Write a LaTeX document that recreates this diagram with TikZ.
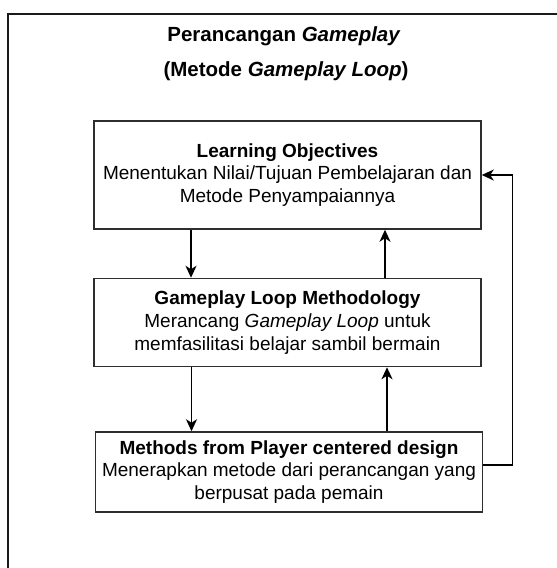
\documentclass[tikz,border=0pt]{standalone}
\usepackage{fontspec}
\setmainfont{Liberation Sans}
\usetikzlibrary{positioning,calc,arrows.meta}
\definecolor{framegray}{HTML}{1A1A1A}
\definecolor{boxgray}{HTML}{2E2E2E}

\begin{document}
\begin{tikzpicture}[
    x=1pt,y=-1pt,
    stage/.style={rectangle,draw=boxgray,line width=1.5pt,minimum width=387pt,
      align=center,inner sep=0pt,font=\fontsize{19}{22.8}\selectfont},
    flow/.style={-{Stealth[length=12pt,width=11pt,inset=3.5pt]},line width=1.5pt,black},
    heading/.style={font=\fontsize{20.5}{24}\selectfont\bfseries}
  ]
    \useasboundingbox (0,0) rectangle (557,568);
    % Outer frame (cut at the right and bottom)
    \begin{scope}
      \clip (0,0) rectangle (557,568);
      \draw[framegray,line width=1.6pt] (8,14) rectangle (590,600);
    \end{scope}
    % Title
    \node[heading] (title) at (284,36) {Perancangan \textit{Gameplay}};
    \node[heading] (subtitle) at (286,71) {(Metode \textit{Gameplay Loop})};
    % Stages
    \node[stage,minimum height=108pt] (objectives) at (287.5,175)
      {\textbf{Learning Objectives}\\Menentukan Nilai/Tujuan Pembelajaran dan\\Metode Penyampaiannya};
    \node[stage,minimum height=88pt,below=48pt of objectives] (loopmethod)
      {\textbf{Gameplay Loop Methodology}\\Merancang \textit{Gameplay Loop} untuk\\memfasilitasi belajar sambil bermain};
    \node[stage,minimum height=80pt,below=64pt of loopmethod,xshift=1.5pt] (playerdesign)
      {\textbf{Methods from Player centered design}\\Menerapkan metode dari perancangan yang\\berpusat pada pemain};
    % Down and up connectors
    \coordinate (down1) at ([xshift=-96.5pt]objectives.south);
    \coordinate (up1) at ([xshift=97.5pt]loopmethod.north);
    \coordinate (down2) at ([xshift=-96pt]loopmethod.south);
    \coordinate (up2) at ([xshift=98pt]playerdesign.north);
    \draw[flow] (down1) -- (down1 |- loopmethod.north);
    \draw[flow] (up1) -- (up1 |- objectives.south);
    \draw[flow] (down2) -- (down2 |- playerdesign.north);
    \draw[flow] (up2) -- (up2 |- loopmethod.south);
    % Feedback loop
    \draw[flow] ([yshift=7pt]playerdesign.east) -- ++(29,0) |- (objectives.east);
  \end{tikzpicture}
\end{document}
